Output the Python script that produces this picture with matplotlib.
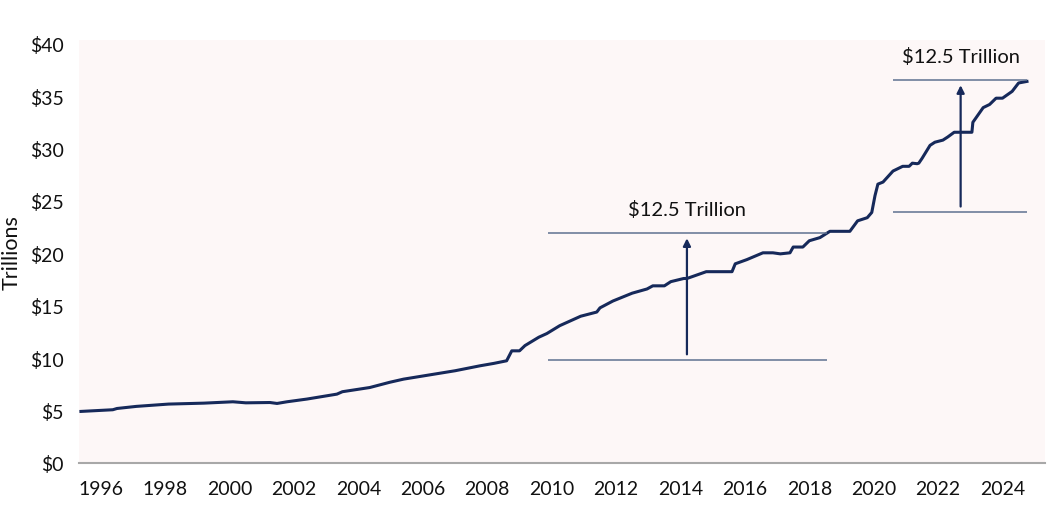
import matplotlib.pyplot as plt

# federal debt, trillions of dollars
years = [1995.38, 1996.37, 1996.5, 1997.1, 1998.1, 1999.2, 2000.1, 2000.5, 2001.25, 2001.47,
         2001.78, 2002.4, 2003.33, 2003.5, 2004.35, 2004.97, 2005.4, 2006.0, 2007.0, 2007.77,
         2008.2, 2008.6, 2008.76, 2009.0, 2009.17, 2009.6, 2009.85, 2010.25, 2010.9, 2011.4,
         2011.5, 2011.9, 2012.5, 2012.96, 2013.14, 2013.5, 2013.7, 2014.1, 2014.2, 2014.8,
         2015.6, 2015.7, 2016.06, 2016.56, 2016.87, 2017.1, 2017.4, 2017.5, 2017.8, 2018.0,
         2018.33, 2018.64, 2018.9, 2019.26, 2019.5, 2019.8, 2019.94, 2020.04, 2020.13, 2020.29,
         2020.6, 2020.9, 2021.1, 2021.2, 2021.35, 2021.4, 2021.5, 2021.75, 2021.9, 2022.15,
         2022.3, 2022.5, 2023.05, 2023.08, 2023.4, 2023.6, 2023.8, 2024.0, 2024.3, 2024.5,
         2024.76]
debt = [4.92, 5.08, 5.2, 5.4, 5.62, 5.71, 5.84, 5.74, 5.77, 5.68,
        5.84, 6.1, 6.57, 6.8, 7.2, 7.7, 8.0, 8.3, 8.8, 9.27,
        9.5, 9.75, 10.7, 10.7, 11.2, 12.0, 12.35, 13.1, 14.0, 14.4,
        14.8, 15.45, 16.2, 16.6, 16.9, 16.9, 17.3, 17.6, 17.6, 18.25,
        18.25, 19.0, 19.4, 20.05, 20.05, 19.95, 20.05, 20.6, 20.6, 21.2,
        21.5, 22.1, 22.1, 22.1, 23.1, 23.4, 23.9, 25.5, 26.6, 26.8,
        27.85, 28.3, 28.3, 28.6, 28.55, 28.6, 29.05, 30.3, 30.6, 30.8,
        31.1, 31.55, 31.55, 32.5, 33.9, 34.2, 34.8, 34.8, 35.45, 36.25,
        36.4]

# the two "$12.5 Trillion" brackets: (x start, x end, low, high, arrow x, label)
brackets = [(2009.9, 2018.55, 9.8, 21.9, 2014.2, "$12.5 Trillion"),
            (2020.6, 2024.75, 23.9, 36.5, 2022.7, "$12.5 Trillion")]

xticks = list(range(1996, 2025, 2))
yticks = list(range(0, 41, 5))

navy = "#16295a"
plt.rcParams["font.family"] = ["Lato", "DejaVu Sans"]

fig = plt.figure(figsize=(10.5, 5.06), dpi=100)
ax = fig.add_axes([79 / 1050, 42 / 506, 966 / 1050, 423 / 506])
ax.set_facecolor("#fdf7f7")

ax.plot(years, debt, color=navy, linewidth=2.2)

for x0, x1, lo, hi, xa, label in brackets:
    ax.hlines([lo, hi], x0, x1, color="#5f7190", linewidth=1.1)
    ax.annotate("", xy=(xa, hi - 0.2), xytext=(xa, lo + 0.3),
                arrowprops=dict(arrowstyle="-|>", color=navy, lw=1.6, mutation_scale=11))
    ax.text(xa, hi + 1.5, label, ha="center", va="bottom", fontsize=14.5, color="#111111")

ax.set_xlim(1995.32, 2025.32)
ax.set_ylim(0, 40.35)
ax.set_xticks(xticks)
ax.set_xticklabels([str(y) for y in xticks])
ax.set_yticks(yticks)
ax.set_yticklabels(["$%d" % v for v in yticks])
ax.tick_params(length=0, labelsize=14, colors="#111111")
ax.tick_params(axis="x", pad=12)
ax.tick_params(axis="y", pad=11)
ax.set_ylabel("Trillions", fontsize=15.5, color="#111111", labelpad=6)

for side in ["left", "right", "top"]:
    ax.spines[side].set_visible(False)
ax.spines["bottom"].set_color("#a8a8a8")
ax.spines["bottom"].set_linewidth(1.5)

fig.savefig("out.png", dpi=100)
